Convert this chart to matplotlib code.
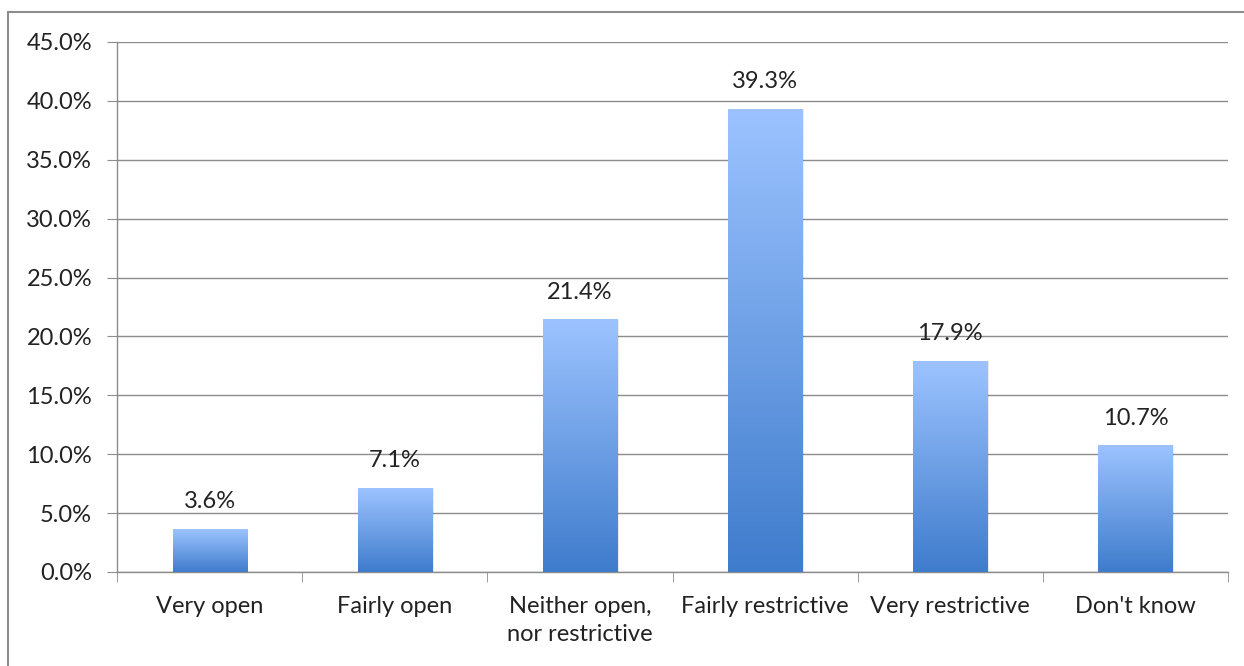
import numpy as np
import matplotlib.pyplot as plt
from matplotlib.patches import Rectangle
from matplotlib.colors import LinearSegmentedColormap

categories = ['Very open', 'Fairly open', 'Neither open,\nnor restrictive',
              'Fairly restrictive', 'Very restrictive', "Don't know"]
values = [3.6, 7.1, 21.4, 39.3, 17.9, 10.7]
yticks = [0, 5, 10, 15, 20, 25, 30, 35, 40, 45]

plt.rcParams['font.family'] = ['Lato', 'DejaVu Sans']
fs = 17

fig = plt.figure(figsize=(12.44, 6.66), dpi=100)
ax = fig.add_axes([117 / 1244, 94 / 666, 1111 / 1244, 530 / 666])

# outer chart frame
fig.patches.append(Rectangle((8 / 1244, -0.05), 1.1, 0.05 + 654 / 666,
                             transform=fig.transFigure, fill=False,
                             edgecolor='#8c8c8c', linewidth=1.5))

grad = LinearSegmentedColormap.from_list('g', ['#3f7ccc', '#9cc3ff'])
x = np.arange(len(categories))
w = 0.4
for xi, v in zip(x, values):
    # soft shadow
    ax.add_patch(Rectangle((xi - w / 2 + 0.01, 0), w, v, facecolor='#000000',
                           alpha=0.08, edgecolor='none', zorder=2))
    img = np.linspace(0, 1, 256).reshape(-1, 1)
    ax.imshow(img, cmap=grad, origin='lower', aspect='auto',
              extent=[xi - w / 2, xi + w / 2, 0, v], zorder=3)
    ax.annotate('%.1f%%' % v, (xi, v), xytext=(0, 20), textcoords='offset points',
                ha='center', va='center', fontsize=fs, color='#222222', zorder=4)

ax.set_xlim(-0.5, len(categories) - 0.5)
ax.set_ylim(0, 45)
ax.set_yticks(yticks)
ax.set_yticklabels(['%.1f%%' % t for t in yticks], fontsize=fs, color='#222222')
ax.set_xticks(x)
ax.set_xticklabels(categories, fontsize=fs, color='#222222', linespacing=1.45)
ax.set_xticks(np.arange(len(categories) + 1) - 0.5, minor=True)
ax.tick_params(axis='x', which='major', length=0, pad=17)
ax.tick_params(axis='x', which='minor', length=7, color='#8c8c8c', direction='out')
ax.tick_params(axis='y', length=7, color='#8c8c8c', pad=11)
ax.grid(axis='y', color='#8c8c8c', linewidth=1)
ax.set_axisbelow(True)
for s in ['top', 'right']:
    ax.spines[s].set_visible(False)
for s in ['left', 'bottom']:
    ax.spines[s].set_color('#8c8c8c')
    ax.spines[s].set_linewidth(1)

fig.savefig('out.png', dpi=100)
